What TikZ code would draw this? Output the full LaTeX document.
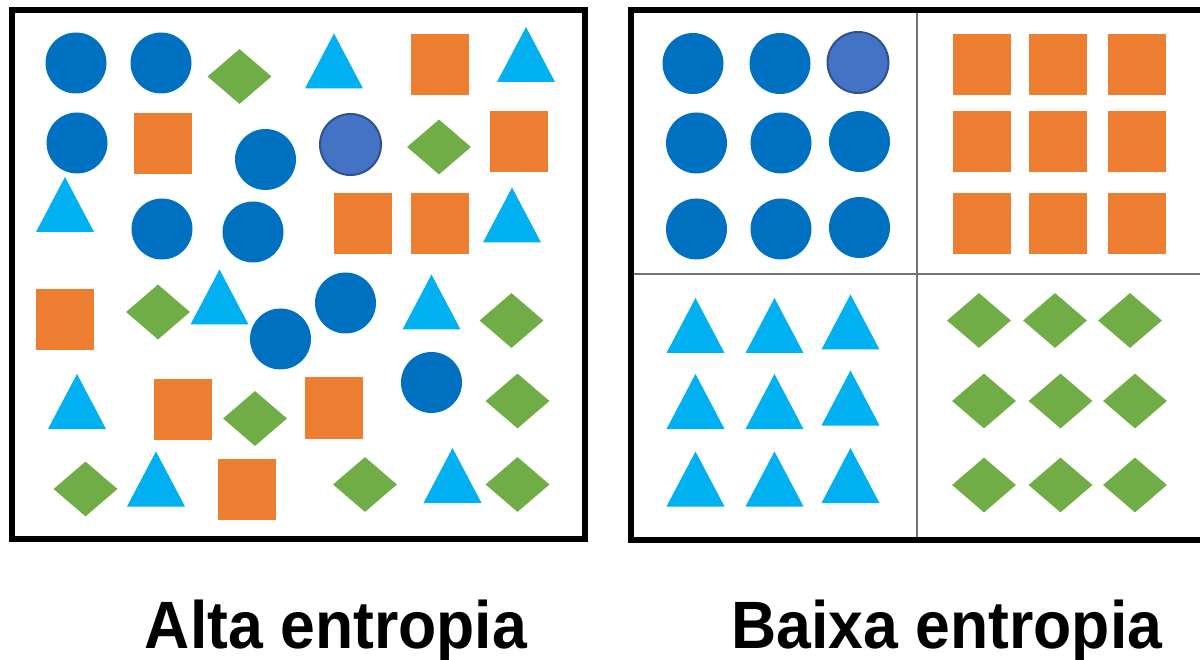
\documentclass[tikz,border=0pt]{standalone}
\usepackage{fontspec}
\setmainfont{Liberation Sans}
\usepackage{graphicx}
\usepackage{xcolor}
\usepackage{tikz}
\usetikzlibrary{shapes.geometric}

\definecolor{azul}{HTML}{0070C0}
\definecolor{azulclaro}{HTML}{4472C4}
\definecolor{azulborda}{HTML}{2F528F}
\definecolor{laranja}{HTML}{ED7D31}
\definecolor{verde}{HTML}{70AD47}
\definecolor{ciano}{HTML}{00B0F0}

\newcommand{\estreito}[1]{\scalebox{0.933}[1]{#1}}

\begin{document}
\begin{tikzpicture}[
  x=1pt, y=-1pt,
  bola/.style={circle, fill=azul, minimum size=61pt, inner sep=0pt},
  bolaclara/.style={circle, fill=azulclaro, draw=azulborda, line width=2pt,
                    minimum size=61pt, inner sep=0pt},
  quadrado/.style={rectangle, fill=laranja, minimum width=58pt,
                   minimum height=61pt, inner sep=0pt},
  losango/.style={diamond, fill=verde, minimum width=64pt,
                  minimum height=55pt, inner sep=0pt},
  triangulo/.pic={\fill[ciano] (-29,27.5) -- (0,-27.5) -- (29,27.5) -- cycle;},
  caixa/.style={draw, line width=6pt},
  divisa/.style={draw=black!55, line width=1.5pt},
  rotulo/.style={anchor=base, inner sep=0pt,
                 font=\fontsize{67}{75}\selectfont\bfseries}
]
  \clip (0,0) rectangle (1200,660);

  % alta entropia
  \foreach \px/\py [count=\i] in {76/63, 161/63, 77/143, 265.5/159.5, 162/229,
      253/232, 280.5/339, 345.5/303, 431.5/382.5}
    \node[bola] (ca\i) at (\px,\py) {};
  \node[bolaclara] (cac) at (350.5,144.5) {};
  \foreach \px/\py [count=\i] in {440/64.5, 163/144, 519/142, 363/224, 440/224,
      65/320, 183/409.5, 333.5/408, 247/489}
    \node[quadrado] (qa\i) at (\px,\py) {};
  \foreach \px/\py [count=\i] in {239.5/76.5, 439/147, 158/312, 511.5/320.5,
      255/418.5, 517.5/401, 85.5/489, 365/484.5, 517.5/484.5}
    \node[losango] (la\i) at (\px,\py) {};
  \foreach \px/\py [count=\i] in {334/61, 526/54.5, 65/204.5, 512/215,
      219.5/297, 431.5/302, 77/401.5, 156/479, 452.5/475.5}
    \pic (ta\i) at (\px,\py) {triangulo};
  \draw[caixa] (12,10) rectangle (585,539);

  % baixa entropia
  \draw[divisa] (917,10) -- (917,540);
  \draw[divisa] (631,274) -- (1204,274);
  \foreach \px/\py [count=\i] in {693/63.5, 780/63.5, 696.5/143, 781/143,
      859.5/141.5, 696.5/229, 781/229, 859.5/227.5}
    \node[bola] (cb\i) at (\px,\py) {};
  \node[bolaclara] (cbc) at (858,62.5) {};
  \foreach \px in {981.5, 1058, 1137}
    \foreach \py in {64.5, 142, 224}
      \node[quadrado] (qb-\px-\py) at (\px,\py) {};
  \foreach \px/\py [count=\i] in {695.5/325.5, 774.5/325.5, 850.5/322,
      695.5/401.5, 774.5/401.5, 850.5/398, 695.5/479, 774.5/479, 850.5/475.5}
    \pic (tb\i) at (\px,\py) {triangulo};
  \foreach \px/\py [count=\i] in {979/320.5, 1055/320.5, 1130/320.5,
      984/401, 1060.5/401, 1135/401, 984/485, 1060.5/485, 1135/485}
    \node[losango] (lb\i) at (\px,\py) {};
  \draw[caixa] (631,10) rectangle (1204,540);

  \node[rotulo] (alta) at (336,648) {\estreito{Alta entropia}};
  \node[rotulo] (baixa) at (947,648) {\estreito{Baixa entropia}};
\end{tikzpicture}
\end{document}
